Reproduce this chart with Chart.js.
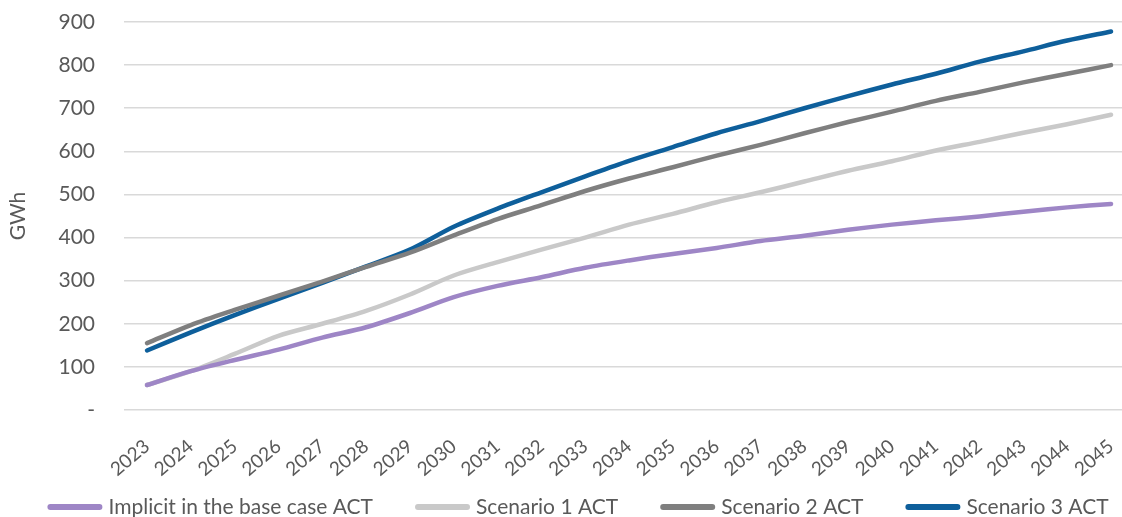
<!DOCTYPE html>
<html>
<head>
<meta charset="utf-8">
<script src="https://cdn.jsdelivr.net/npm/chart.js@4/dist/chart.umd.min.js"></script>
<style>
  html, body { margin: 0; padding: 0; background: #ffffff; }
  #wrap { width: 1122px; height: 517px; }
</style>
</head>
<body>
<div id="wrap"><canvas id="c" width="1122" height="517"></canvas></div>
<script>
// Annual electricity demand projections (GWh)
const years = ['2023','2024','2025','2026','2027','2028','2029','2030','2031','2032','2033','2034',
               '2035','2036','2037','2038','2039','2040','2041','2042','2043','2044','2045'];

const implicitBase = [58, 90, 116, 140, 168, 192, 225, 262, 288, 308, 330, 347,
                      362, 376, 392, 404, 418, 430, 440, 449, 460, 470, 478];
const scenario1 = [58, 90, 130, 172, 200, 230, 268, 312, 343, 372, 400, 430,
                   455, 482, 505, 530, 555, 577, 602, 622, 643, 663, 685];
const scenario2 = [155, 197, 232, 265, 298, 332, 365, 405, 443, 475, 508, 537,
                   563, 590, 615, 642, 668, 692, 717, 738, 760, 780, 800];
const scenario3 = [138, 180, 220, 258, 295, 333, 372, 425, 467, 505, 542, 578,
                   610, 642, 670, 700, 728, 755, 780, 808, 832, 857, 878];

const seriesNames = ['Implicit in the base case ACT', 'Scenario 1 ACT', 'Scenario 2 ACT', 'Scenario 3 ACT'];
const yTicks = [0, 100, 200, 300, 400, 500, 600, 700, 800, 900];

const colours = ['#9e86c6', '#c9c9c9', '#7f7f7f', '#0e5f9b'];
const textColour = '#595959';
const fontFamily = 'Lato, "Open Sans", sans-serif';

const yearValues = years.map(Number);

function lineSet(label, data, colour) {
  return {
    label: label,
    data: data.map((v, i) => ({ x: yearValues[i], y: v })),
    borderColor: colour,
    backgroundColor: colour,
    borderWidth: 4.5,
    borderCapStyle: 'round',
    borderJoinStyle: 'round',
    pointRadius: 0,
    tension: 0.3,
    fill: false
  };
}

// Legend row along the bottom: a short rounded line sample followed by the series name
const bottomLegend = {
  id: 'bottomLegend',
  afterDraw(chart) {
    const ctx = chart.ctx;
    const sample = 55, gapText = 6, gapItem = 42;
    ctx.save();
    ctx.font = '21px ' + fontFamily;
    const items = chart.data.datasets.map(ds => ({
      label: ds.label, colour: ds.borderColor, w: sample + gapText + ctx.measureText(ds.label).width
    }));
    const total = items.reduce((s, it) => s + it.w, 0) + gapItem * (items.length - 1);
    let x = (chart.width - total) / 2 + 17;
    const y = 507;
    items.forEach(it => {
      ctx.strokeStyle = it.colour;
      ctx.lineWidth = 6;
      ctx.lineCap = 'round';
      ctx.beginPath();
      ctx.moveTo(x + 3, y);
      ctx.lineTo(x + sample - 3, y);
      ctx.stroke();
      ctx.fillStyle = textColour;
      ctx.textBaseline = 'middle';
      ctx.textAlign = 'left';
      ctx.fillText(it.label, x + sample + gapText, y);
      x += it.w + gapItem;
    });
    ctx.restore();
  }
};

new Chart(document.getElementById('c'), {
  type: 'line',
  data: {
    datasets: [
      lineSet(seriesNames[0], implicitBase, colours[0]),
      lineSet(seriesNames[1], scenario1, colours[1]),
      lineSet(seriesNames[2], scenario2, colours[2]),
      lineSet(seriesNames[3], scenario3, colours[3])
    ]
  },
  plugins: [bottomLegend],
  options: {
    responsive: false,
    animation: false,
    layout: { padding: { left: 0, right: 0, top: 0, bottom: 0 } },
    plugins: {
      tooltip: { enabled: false },
      legend: { display: false }
    },
    scales: {
      x: {
        type: 'linear',
        min: 2022.475,
        max: 2045.25,
        afterBuildTicks: (axis) => { axis.ticks = yearValues.map(v => ({ value: v })); },
        afterFit: (axis) => { axis.height = 107; axis.paddingLeft = 0; axis.paddingRight = 0; },
        grid: { display: false },
        border: { display: false },
        ticks: {
          color: textColour,
          font: { family: fontFamily, size: 19 },
          maxRotation: 40,
          minRotation: 40,
          autoSkip: false,
          padding: 17,
          callback: (v) => String(v)
        }
      },
      y: {
        min: yTicks[0],
        max: yTicks[yTicks.length - 1],
        afterBuildTicks: (axis) => { axis.ticks = yTicks.map(v => ({ value: v })); },
        afterFit: (axis) => { axis.width = 124; axis.paddingTop = 22; axis.paddingBottom = 0; },
        grid: { color: '#d9d9d9', lineWidth: 1.5, drawTicks: false },
        border: { display: false },
        title: {
          display: true,
          text: 'GWh',
          color: textColour,
          font: { family: fontFamily, size: 21 },
          padding: { top: 6, bottom: 27 }
        },
        ticks: {
          color: textColour,
          font: { family: fontFamily, size: 21 },
          padding: 29,
          callback: (v) => v === 0 ? '-' : String(v)
        }
      }
    }
  }
});
</script>
</body>
</html>
